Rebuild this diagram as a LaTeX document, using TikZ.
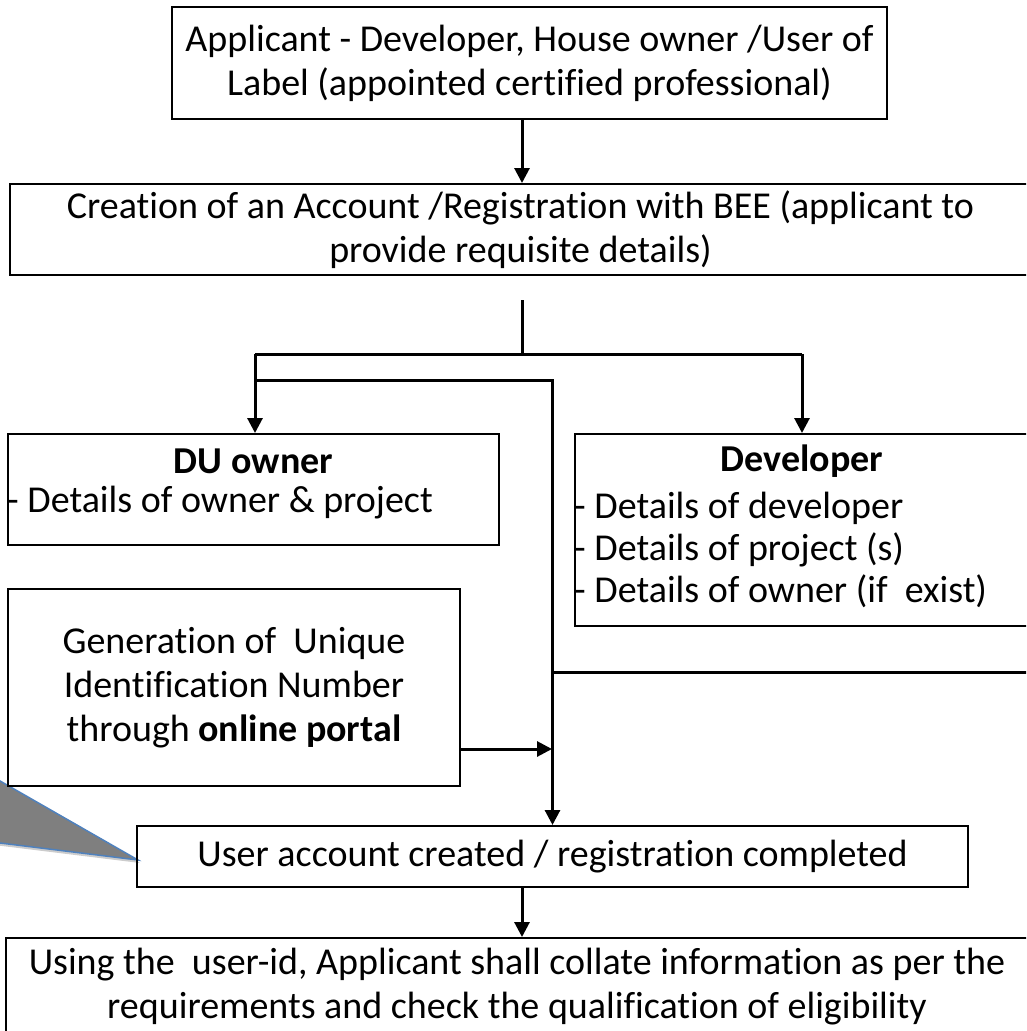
\documentclass[tikz,border=0pt]{standalone}
\usepackage{fontspec}
\setmainfont{Carlito}[Ligatures=NoCommon]
\usetikzlibrary{arrows.meta,positioning}

\definecolor{calloutblue}{HTML}{4F81BD}
\definecolor{wedgegray}{HTML}{7F7F7F}

\tikzset{
  box/.style={draw, line width=2pt, inner sep=0pt, align=center},
  flow/.style={line width=3pt, -{Triangle[length=15pt,width=15pt]}},
  link/.style={line width=3pt},
  item/.style={anchor=west, inner sep=0pt},
}

\begin{document}
\begin{tikzpicture}[x=1pt, y=-1pt, every node/.style={font=\fontsize{38}{44}\selectfont}]
\clip (0,0) rectangle (1026,1031);

% callout pointer
\fill[black, opacity=0.2] (-18,772.5) -- (140,863) -- (-18,843.5) -- cycle;
\filldraw[fill=wedgegray, draw=calloutblue, line width=1.5pt]
  (-20,769.5) -- (138,860) -- (-20,840.5) -- cycle;

% boxes
\node[box, minimum width=715pt, minimum height=112pt] (appl) at (529.5,63)
  {Applicant - Developer, House owner /User of\\Label (appointed certified professional)};
\node[box, minimum width=1021pt, minimum height=91pt] (reg) at (520.5,229.5)
  {Creation of an Account /Registration with BEE (applicant to\\provide requisite details)};
\node[box, minimum width=491pt, minimum height=111pt] (du) at (253.5,489.5) {};
\node[box, minimum width=465pt, minimum height=192pt] (dev) at (807.5,530) {};
\node[box, minimum width=452pt, minimum height=197pt] (gen) at (234,687.5)
  {Generation of\ \ Unique\\Identification Number\\through \textbf{online portal}};
\node[box, minimum width=831pt, minimum height=61pt] (ua) at (552.5,856.5)
  {User account created / registration completed};
\node[box, minimum width=1022pt, minimum height=98pt] (last) at (517,987)
  {Using the\ \ user-id, Applicant shall collate information as per the\\requirements and check the qualification of eligibility};

% box texts
\node (duhead) at (253.5,461) {\textbf{DU owner}};
\node[item] (duitem) at (7,503) {- Details of owner \& project};
\node (devhead) at (802,461) {\textbf{Developer}};
\node[item] (devitema) at (574,508) {- Details of developer};
\node[item] (devitemb) at (574,550) {- Details of project (s)};
\node[item] (devitemc) at (574,591) {- Details of owner (if\ \ exist)};

% connectors
\coordinate (trunk) at (522,300);
\coordinate (lsplit) at (255,354);
\coordinate (rsplit) at (802,354);
\coordinate (bypass) at (255,380);
\coordinate (side) at (1030,672);
\coordinate (genout) at (552,749);

\draw[flow] (appl.south -| trunk) -- (reg.north -| trunk);
\draw[link] (trunk) -- (trunk |- lsplit);
\draw[link] (lsplit) -- (rsplit);
\draw[flow] (lsplit) -- (lsplit |- du.north);
\draw[flow] (rsplit) -- (rsplit |- dev.north);
\draw[flow] (bypass) -| (ua.north);
\draw[link] (side) -- (ua.north |- side);
\draw[flow] (genout -| gen.east) -- (genout);
\draw[flow] (ua.south -| trunk) -- (last.north -| trunk);
\end{tikzpicture}
\end{document}
